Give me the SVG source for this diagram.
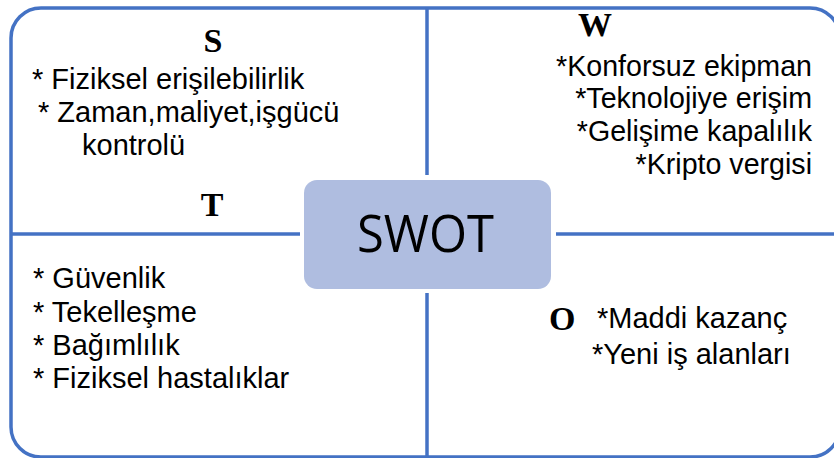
<svg xmlns="http://www.w3.org/2000/svg" width="834" height="458" viewBox="0 0 834 458">
<style>
.ln{stroke:#4472C4;stroke-width:3.5;fill:none}
.t{font-family:"Liberation Sans",Arial,sans-serif;font-size:29px;fill:#000}
.h{font-family:"Liberation Serif","Times New Roman",serif;font-size:34px;font-weight:bold;fill:#000}
.c{font-family:"Open Sans","Liberation Sans",sans-serif;font-size:52px;fill:#000}
</style>
<rect width="834" height="458" fill="#fff"/>
<g id="frame">
<rect class="ln" x="11" y="8" width="829" height="449" rx="30" ry="30"/>
</g>
<g id="connectors">
<line class="ln" x1="427" y1="8" x2="427" y2="175"/>
<line class="ln" x1="427" y1="293" x2="427" y2="457"/>
<line class="ln" x1="11" y1="234" x2="300" y2="234"/>
<line class="ln" x1="556" y1="234" x2="840" y2="234"/>
</g>
<g id="strengths">
<text class="h" x="213" y="52" text-anchor="middle">S</text>
<text class="t" x="32" y="89">* Fiziksel erişilebilirlik</text>
<text class="t" x="38" y="122">* Zaman,maliyet,işgücü</text>
<text class="t" x="82" y="155">kontrolü</text>
</g>
<g id="weaknesses">
<text class="h" x="578" y="36">W</text>
<text class="t" x="812" y="76" text-anchor="end" style="font-size:28.6px">*Konforsuz ekipman</text>
<text class="t" x="812" y="108" text-anchor="end" style="font-size:28.6px">*Teknolojiye erişim</text>
<text class="t" x="812" y="141" text-anchor="end" style="font-size:28.6px">*Gelişime kapalılık</text>
<text class="t" x="812" y="174" text-anchor="end" style="font-size:28.6px">*Kripto vergisi</text>
</g>
<g id="threats">
<text class="h" x="212" y="216" text-anchor="middle">T</text>
<text class="t" x="33" y="288">* Güvenlik</text>
<text class="t" x="33" y="322">* Tekelleşme</text>
<text class="t" x="33" y="355">* Bağımlılık</text>
<text class="t" x="33" y="388">* Fiziksel hastalıklar</text>
</g>
<g id="opportunities">
<text class="h" x="549" y="330">O</text>
<text class="t" x="597" y="328">*Maddi kazanç</text>
<text class="t" x="592" y="364">*Yeni iş alanları</text>
</g>
<g id="swot">
<rect x="304" y="180" width="247" height="109" rx="13" ry="13" fill="#AFBDE0"/>
<text class="c" x="425.5" y="252" text-anchor="middle" textLength="137" lengthAdjust="spacingAndGlyphs">SWOT</text>
</g>
</svg>
